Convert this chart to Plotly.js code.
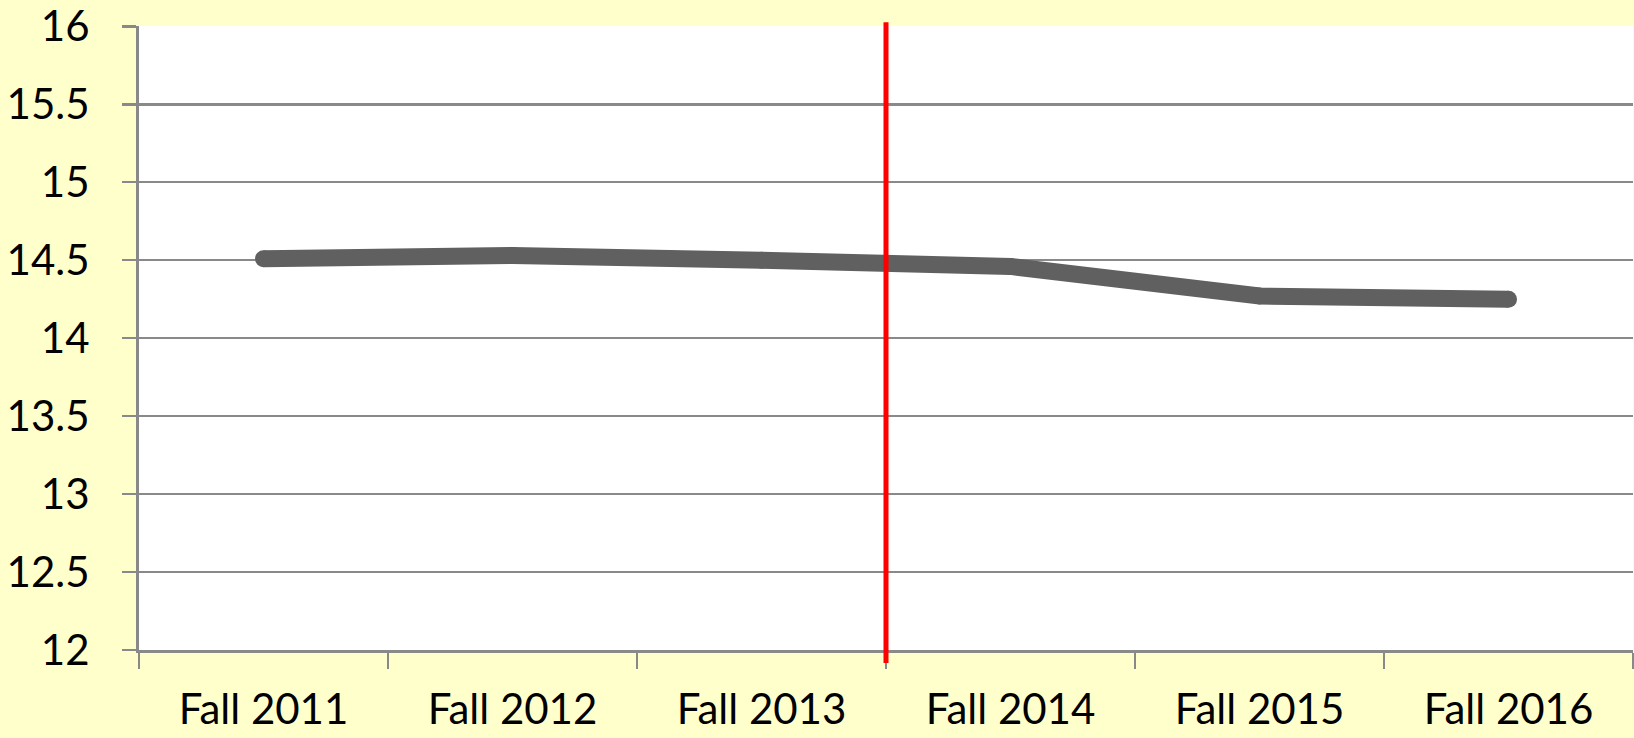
<!DOCTYPE html>
<html>
<head>
<meta charset="utf-8">
<script src="https://cdn.plot.ly/plotly-3.0.1.min.js"></script>
<style>
  html, body { margin: 0; padding: 0; background: #FFFFCC; }
  #chart { width: 1634px; height: 738px; }
</style>
</head>
<body>
<div id="chart"></div>
<script>
const categories = ["Fall 2011", "Fall 2012", "Fall 2013", "Fall 2014", "Fall 2015", "Fall 2016"];
const values = [14.51, 14.53, 14.50, 14.46, 14.27, 14.25];
const yTickValues = [12, 12.5, 13, 13.5, 14, 14.5, 15, 15.5, 16];
const dividerPosition = 2.5; // between Fall 2013 and Fall 2014

const lineColor = "#606060";
const gridColor = "#898989";
const fontFamily = "Lato, 'Open Sans', sans-serif";

const trace = {
  x: categories,
  y: values,
  type: "scatter",
  mode: "lines+markers",
  line: { color: lineColor, width: 17 },
  marker: { color: lineColor, size: 17 },
  hoverinfo: "x+y",
  showlegend: false,
  cliponaxis: false
};

const layout = {
  width: 1634,
  height: 738,
  paper_bgcolor: "#FFFFCC",
  plot_bgcolor: "#FFFFFF",
  margin: { l: 139, r: 1, t: 26, b: 88, pad: 0 },
  font: { family: fontFamily, size: 42, color: "#000000" },
  xaxis: {
    type: "category",
    range: [-0.5, 5.5],
    tickson: "boundaries",
    ticks: "outside",
    ticklen: 16,
    tickwidth: 2.5,
    tickcolor: gridColor,
    showline: true,
    linecolor: gridColor,
    linewidth: 3,
    showgrid: false,
    zeroline: false,
    ticklabelstandoff: 21,
    tickfont: { family: fontFamily, size: 42, color: "#000000" },
    fixedrange: true
  },
  yaxis: {
    range: [12, 16.002],
    tickvals: yTickValues,
    ticktext: yTickValues.map(v => String(v)),
    ticks: "outside",
    ticklen: 14,
    tickwidth: 2.5,
    tickcolor: gridColor,
    showline: true,
    linecolor: gridColor,
    linewidth: 3,
    showgrid: true,
    gridcolor: gridColor,
    gridwidth: 2.5,
    zeroline: false,
    ticklabelstandoff: 24,
    ticklabeloverflow: "allow",
    tickfont: { family: fontFamily, size: 42, color: "#000000" },
    fixedrange: true
  },
  shapes: [
    {
      type: "line",
      xref: "x",
      yref: "paper",
      x0: dividerPosition,
      x1: dividerPosition,
      y0: -0.021,
      y1: 1.006,
      line: { color: "#FF0000", width: 5 },
      layer: "above"
    }
  ]
};

Plotly.newPlot("chart", [trace], layout, { displayModeBar: false, staticPlot: true });
</script>
</body>
</html>
